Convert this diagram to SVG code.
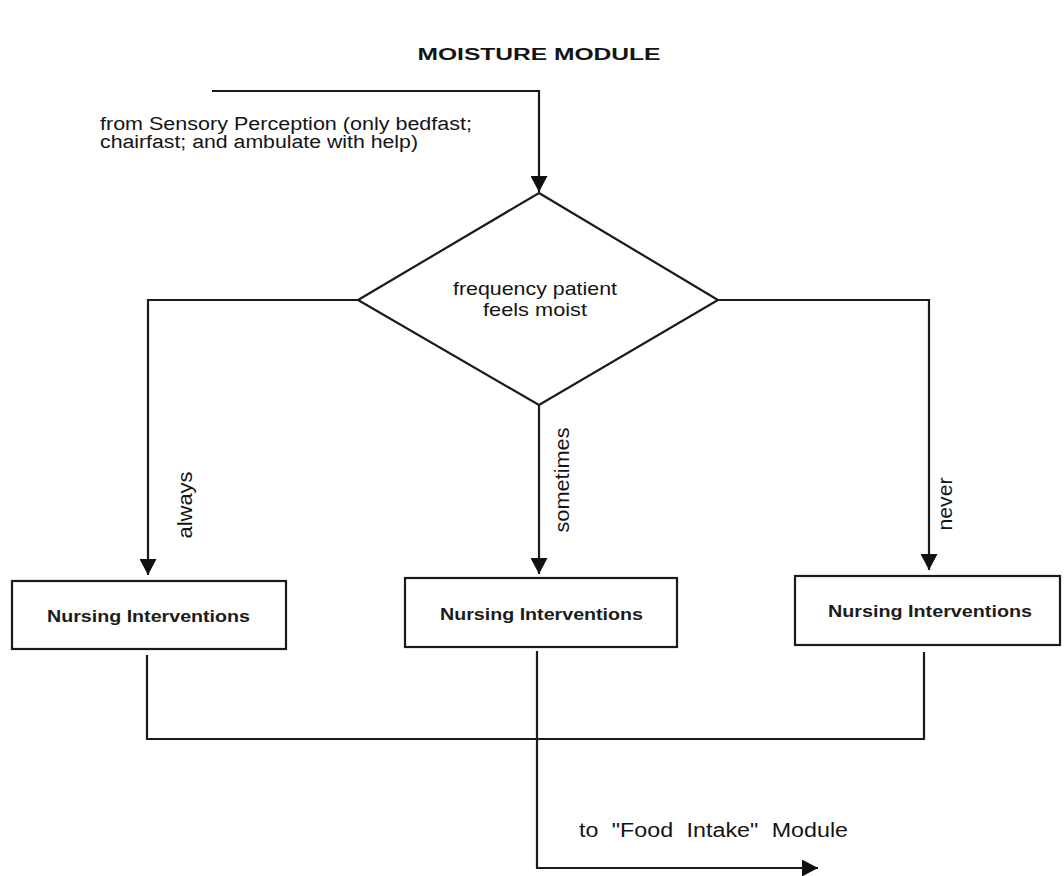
<svg xmlns="http://www.w3.org/2000/svg" width="1064" height="876" viewBox="0 0 1064 876">
  <style>
    .shape { fill: #ffffff; stroke: #1a1a1a; stroke-width: 2.2; }
    .wire { fill: none; stroke: #1a1a1a; stroke-width: 2.2; }
    .lbl { font-family: "Liberation Sans", Arial, sans-serif; fill: #141414; }
    .box-lbl { font-family: "Liberation Sans", Arial, sans-serif; font-size: 16px; font-weight: bold; fill: #1c1c1c; }
  </style>
  <defs>
    <marker id="head" viewBox="0 0 16 17" refX="16" refY="8.5" markerWidth="16" markerHeight="17" markerUnits="userSpaceOnUse" orient="auto">
      <path d="M0,0 L16,8.5 L0,17 z" fill="#111111"/>
    </marker>
  </defs>
  <rect width="1064" height="876" fill="#ffffff"/>

  <!-- heading -->
  <text class="lbl" x="539" y="60" text-anchor="middle" font-size="16" font-weight="bold" textLength="243" lengthAdjust="spacingAndGlyphs">MOISTURE MODULE</text>

  <!-- incoming note -->
  <text class="lbl" x="100" y="130" font-size="18" textLength="372" lengthAdjust="spacingAndGlyphs">from Sensory Perception (only bedfast;</text>
  <text class="lbl" x="100" y="148" font-size="18" textLength="318" lengthAdjust="spacingAndGlyphs">chairfast; and ambulate with help)</text>

  <g id="connectors">
    <polyline class="wire" points="212,91 539,91 539,192" marker-end="url(#head)"/>
    <polyline class="wire" points="358,300 148,300 148,575" marker-end="url(#head)"/>
    <polyline class="wire" points="539,405 539,574" marker-end="url(#head)"/>
    <polyline class="wire" points="718,300 929,300 929,570" marker-end="url(#head)"/>
    <polyline class="wire" points="147,655 147,739 924,739 924,652"/>
    <polyline class="wire" points="537,651 537,868 818,868" marker-end="url(#head)"/>
    <text class="lbl" font-size="21" text-anchor="middle" transform="translate(192,505) rotate(-90)" textLength="67" lengthAdjust="spacingAndGlyphs">always</text>
    <text class="lbl" font-size="21" text-anchor="middle" transform="translate(569,480) rotate(-90)" textLength="105" lengthAdjust="spacingAndGlyphs">sometimes</text>
    <text class="lbl" font-size="21" text-anchor="middle" transform="translate(952,504) rotate(-90)" textLength="53" lengthAdjust="spacingAndGlyphs">never</text>
    <text class="lbl" x="579" y="837" font-size="20" word-spacing="6" textLength="269" lengthAdjust="spacingAndGlyphs">to "Food Intake" Module</text>
  </g>

  <g id="decision">
    <polygon class="shape" points="539,193 718,300 539,405 358,300"/>
    <text class="lbl" x="535" y="295" font-size="19" text-anchor="middle" textLength="164" lengthAdjust="spacingAndGlyphs">frequency patient</text>
    <text class="lbl" x="535" y="316" font-size="19" text-anchor="middle" textLength="104" lengthAdjust="spacingAndGlyphs">feels moist</text>
  </g>

  <g id="care-always">
    <rect class="shape" x="12" y="581" width="274" height="68"/>
    <text class="box-lbl" x="47" y="622" textLength="203" lengthAdjust="spacingAndGlyphs">Nursing Interventions</text>
  </g>

  <g id="care-sometimes">
    <rect class="shape" x="405" y="578" width="272" height="69"/>
    <text class="box-lbl" x="440" y="620" textLength="203" lengthAdjust="spacingAndGlyphs">Nursing Interventions</text>
  </g>

  <g id="care-never">
    <rect class="shape" x="795" y="576" width="265" height="69"/>
    <text class="box-lbl" x="828" y="617" textLength="204" lengthAdjust="spacingAndGlyphs">Nursing Interventions</text>
  </g>
</svg>
